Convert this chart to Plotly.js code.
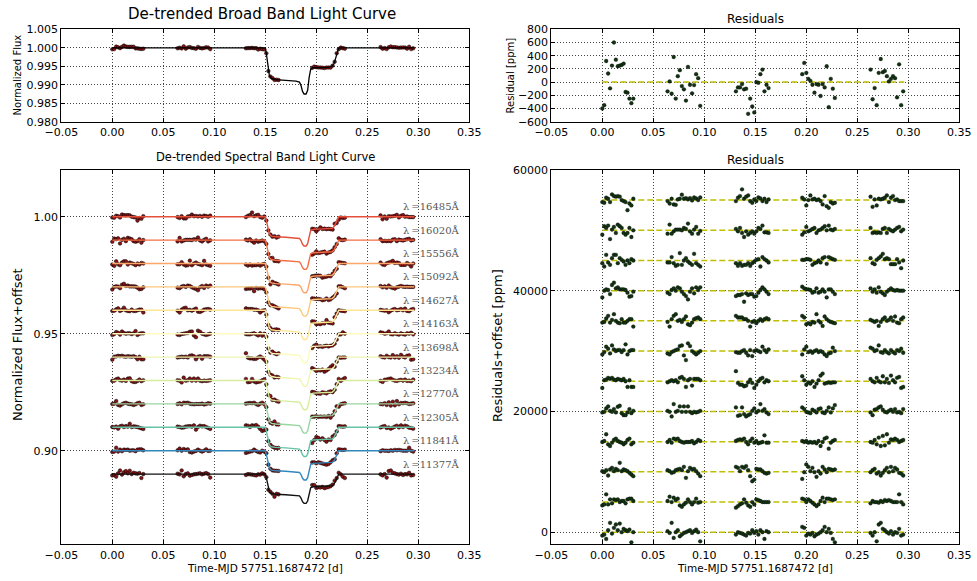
<!DOCTYPE html>
<html><head><meta charset="utf-8">
<script src="https://cdn.plot.ly/plotly-3.0.1.min.js"></script>
<style>html,body{margin:0;padding:0;background:#fff}#c{width:977px;height:581px}</style>
</head><body><div id="c"></div>
<script>
// ---- observation times (5 HST orbits, days) ----
const timeObs = [
 0.0000,0.0019,0.0038,0.0057,0.0076,0.0095,0.0114,0.0133,0.0152,0.0171,0.0190,0.0209,0.0228,0.0247,0.0266,0.0285,0.0304,
 0.0640,0.0660,0.0680,0.0700,0.0720,0.0740,0.0760,0.0780,0.0800,0.0820,0.0840,0.0860,0.0880,0.0900,0.0920,0.0940,0.0960,
 0.1310,0.1330,0.1350,0.1370,0.1390,0.1410,0.1430,0.1450,0.1470,0.1490,0.1510,0.1530,0.1550,0.1570,0.1590,0.1610,0.1630,
 0.1960,0.1980,0.2000,0.2020,0.2040,0.2060,0.2080,0.2100,0.2120,0.2140,0.2160,0.2180,0.2200,0.2220,0.2240,0.2260,0.2280,
 0.2630,0.2650,0.2670,0.2690,0.2710,0.2730,0.2750,0.2770,0.2790,0.2810,0.2830,0.2850,0.2870,0.2890,0.2910,0.2930,0.2950];
// transit model value at each observation time (ppm)
const modelAtObs = [
 0,0,0,0,0,0,0,0,0,0,0,0,0,0,0,0,0,
 0,0,0,0,0,0,0,0,0,0,0,0,0,0,0,0,0,
 0,0,0,0,0,0,0,0,0,0,-1500,-6300,-7900,-8400,-8550,-8600,-8650,
 -5550,-5400,-5380,-5370,-5360,-5350,-5330,-5320,-5300,-5150,-4800,-3700,-1700,0,0,0,0,
 0,0,0,0,0,0,0,0,0,0,0,0,0,0,0,0,0];
// broad band residuals (ppm)
const broadResid = [
 -400,-350,320,130,-95,250,600,340,240,250,260,280,-150,-160,-250,-320,-250,
 -140,10,-175,380,-250,90,180,-60,-110,-280,230,-40,-170,-45,120,60,-360,
 -140,-80,-80,-30,-110,-100,-480,-250,-370,-460,0,-10,120,190,-140,-40,-90,
 120,290,140,50,20,-40,-160,-30,-40,-210,-30,-80,240,-380,50,-100,-240,
 190,-260,-90,-350,140,350,150,170,90,10,50,90,60,-230,270,-350,-140];
// model light curve knots
const modelT = [0,0.150,0.151,0.152,0.153,0.154,0.156,0.160,0.170,0.180,0.1835,0.185,0.1865,0.188,0.190,0.1915,0.193,0.1945,0.197,0.212,0.2155,0.2175,0.219,0.2205,0.2215,0.222,0.296];
const modelDev = [0,0,-1500,-4000,-6300,-7500,-8300,-8600,-8800,-9000,-9300,-10200,-11800,-12500,-12500,-11500,-8000,-5800,-5400,-5300,-5000,-4200,-2800,-1000,-200,0,0];

// spectral channels
const wavelengths = [11377,11841,12305,12770,13234,13698,14163,14627,15092,15556,16020,16485];
const fluxOffsets = [0.89,0.90,0.91,0.92,0.93,0.94,0.95,0.96,0.97,0.98,0.99,1.00];
const residOffsets = [0,5000,10000,15000,20000,25000,30000,35000,40000,45000,50000,55000];
const channelColors = ['#111111','#3288bd','#66c2a5','#99d5a0','#d6ee9b','#eef6b0','#fdfbbe','#fee591','#fdc87c','#fca66a','#f46d43','#e4503a'];

const resid_11377 = [
 -560,-390,-1110,330,1560,-220,720,1280,330,1440,0,560,330,170,440,-1670,0,
 170,-110,1560,-940,0,330,-670,-390,-110,0,170,330,-110,170,440,0,-1500,
 -390,0,-110,-220,-390,-560,-110,-220,330,-110,170,-390,330,0,-1110,170,0,
 890,720,-560,-220,-390,-110,-670,-390,-220,0,330,890,0,560,-110,-1110,-1670,
 -110,-560,0,-1500,1280,1560,560,330,0,-220,170,-390,0,-110,560,-560,-390];
const resid_11841 = [
 -560,-390,1280,-390,440,-220,440,330,440,0,170,170,-220,440,560,560,170,
 170,890,0,720,330,560,-560,-780,-390,-110,440,0,-390,0,560,-110,0,
 -940,-670,-390,-220,440,-110,-560,-780,0,-390,440,330,170,0,0,0,0,
 560,440,0,440,170,-110,-390,-670,-390,170,720,0,560,560,440,330,440,
 -220,170,0,0,-110,170,0,330,170,330,170,0,0,0,1280,0,-390];
const resid_12305 = [
 110,-60,280,-610,390,670,110,500,280,1500,110,390,280,110,-170,-440,-720,
 280,110,-170,-60,280,390,500,280,830,-1000,110,670,390,500,110,-280,-720,
 830,670,110,830,670,950,280,-720,-1560,-1280,500,390,390,110,-170,-280,-170,
 -1170,-60,1220,830,110,670,-60,-830,110,-280,830,390,-60,500,390,280,390,
 -60,280,500,-280,-60,-610,-170,280,670,-60,830,110,670,390,-170,-280,-610];
const resid_12770 = [
 -60,110,1220,-440,-720,-170,280,500,110,-60,-170,-440,-170,280,500,-440,-170,
 -60,280,-170,500,390,500,110,-60,-170,-60,-60,-60,110,-280,-60,280,110,
 110,280,390,280,500,-60,-440,110,500,-170,110,-280,-170,-60,1050,-170,-170,
 110,-60,110,-170,-60,-170,-60,-280,110,-720,-60,500,670,-1170,-170,110,280,
 -60,-170,280,-440,670,-720,950,-610,1220,-170,390,280,500,280,-60,110,280];
const resid_13234 = [
 -170,-60,500,830,110,-60,390,-170,780,940,-280,-610,-610,-170,390,-280,110,
 110,-60,-830,1220,-60,110,830,-60,830,-60,830,-60,-280,-60,-170,-60,110,
 670,-720,-610,670,-440,-830,-610,-440,110,500,-170,110,1220,110,390,-170,-440,
 670,390,-60,-170,-280,280,110,-170,390,500,-170,-280,110,670,-170,500,1050,
 -170,-610,280,390,670,830,280,-60,-170,110,280,-60,390,-170,-60,-280,390];
const resid_13698 = [
 -1110,170,280,560,390,560,280,170,390,280,170,390,0,-940,170,-940,-940,
 -170,0,170,0,170,-170,560,720,390,-940,170,390,-720,390,390,390,170,
 1670,-280,-560,-560,-830,-720,-170,280,-280,-1110,-560,0,390,560,-170,170,0,
 830,170,-560,-170,-390,0,-940,-390,170,940,1280,-390,-280,-170,-280,-170,-170,
 390,0,-170,560,0,-170,830,-170,390,-280,940,170,-170,560,720,-1110,-940];
const resid_14163 = [
 -560,-170,720,390,-390,940,280,0,170,170,-170,170,1110,-560,0,170,170,
 -390,-560,-170,0,170,280,830,940,-720,-1500,1280,830,0,-280,-560,-280,0,
 -170,-280,-280,0,170,-280,-720,170,-830,0,170,0,-170,720,170,-170,280,
 -560,280,720,-170,0,-280,0,170,-170,0,-170,-560,-830,-390,-280,560,0,
 560,390,0,170,940,-170,-280,170,-170,-390,170,-170,-390,170,0,390,-280];
const resid_14627 = [
 -280,-170,390,830,-280,170,1110,0,-280,-390,280,-280,-280,0,280,280,-940,
 -170,-940,280,830,1110,0,170,-170,280,720,-560,-720,-280,280,440,560,280,
 830,560,560,560,280,280,0,-940,-170,0,-390,0,280,0,280,440,280,
 830,560,-560,-390,-560,-170,-280,1110,0,-280,-830,720,280,0,-170,-280,-390,
 170,0,-170,0,-830,-170,280,560,0,170,560,0,720,-280,-390,280,560];
const resid_15092 = [
 -1110,0,220,110,-560,940,1330,390,560,220,220,220,110,-330,-1000,-890,-170,
 -330,-560,110,390,0,560,390,-170,-560,-890,-1450,-170,390,-440,560,110,560,
 -890,-720,-720,-560,-1830,-440,-720,-560,-560,-1000,-890,-330,110,560,220,-170,-560,
 670,390,220,220,110,-330,-170,390,-330,-170,220,-170,-1110,220,220,-170,-560,
 390,-170,220,-330,560,-170,-440,-720,-170,110,390,110,0,110,0,0,0];
const resid_15556 = [
 -440,-1000,940,-330,-720,390,940,940,-440,390,110,-170,-720,0,-440,220,0,
 -330,-330,560,-440,-890,-720,1220,-720,0,390,-170,-440,-720,1110,-440,-720,-1000,
 -440,-890,-440,-890,-720,-720,-440,-890,-440,-170,110,220,-1000,560,220,0,-330,
 110,110,220,220,110,-720,-440,-330,0,-330,390,560,-560,560,390,220,110,
 390,-440,-610,110,390,670,1110,220,390,220,-610,-610,-610,220,-330,-1280,0];
const resid_16020 = [
 -720,670,390,780,-1450,110,560,-440,940,670,390,-440,-720,-440,390,-1110,0,
 -560,940,-560,-170,110,110,110,0,390,220,1110,-170,-560,110,560,-560,-110,
 220,-170,390,-440,-1110,-170,-720,-440,-170,-560,-170,390,220,780,-330,-330,-440,
 -720,-330,560,-170,0,220,390,-440,0,110,390,670,0,780,110,0,220,
 390,-440,-330,-440,-330,-440,220,390,-440,220,0,-170,110,390,560,-170,110];
const resid_16485 = [
 -330,-440,390,220,-330,940,670,560,670,560,0,-170,-330,-1670,-560,-890,220,
 -170,-560,220,-720,-780,110,220,890,220,330,110,330,-60,440,280,0,440,
 -170,390,670,1780,220,560,780,-170,-440,110,-170,440,280,-170,220,-330,110,
 390,110,-890,0,780,110,220,0,110,-170,-720,670,-1000,-1280,-330,-560,-440,
 560,-1110,110,-890,220,110,220,390,780,-330,390,670,0,110,-170,-170,-170];
const channelResid = [resid_11377,resid_11841,resid_12305,resid_12770,resid_13234,resid_13698,
  resid_14163,resid_14627,resid_15092,resid_15556,resid_16020,resid_16485];

const xTickVals = [-0.05,0,0.05,0.10,0.15,0.20,0.25,0.30,0.35];

// ---- build traces ----
const traces = [];
const redMarker = {color:'#8a1212',size:3.6,line:{color:'#000',width:0.5}};
const greenMarker = {color:'#123212',size:3.8,line:{color:'#000',width:0.3}};
const yellowDash = {color:'#bfbf00',width:1.5,dash:'6px,3px'};
const tFirst = modelT[0], tLast = modelT[modelT.length-1];

// top-left broad band
traces.push({x:timeObs,y:timeObs.map((t,i)=>1+(modelAtObs[i]+broadResid[i])*1e-6),mode:'markers',marker:redMarker,xaxis:'x',yaxis:'y',type:'scatter'});
traces.push({x:modelT,y:modelDev.map(d=>1+d*1e-6),mode:'lines',line:{color:'#000',width:1.3},xaxis:'x',yaxis:'y',type:'scatter'});
// top-right residuals
traces.push({x:[tFirst,tLast],y:[0,0],mode:'lines',line:yellowDash,xaxis:'x2',yaxis:'y2',type:'scatter'});
traces.push({x:timeObs,y:broadResid,mode:'markers',marker:greenMarker,xaxis:'x2',yaxis:'y2',type:'scatter'});

const annotations = [];
wavelengths.forEach((wl,k)=>{
  const res = channelResid[k];
  traces.push({x:timeObs,y:timeObs.map((t,i)=>fluxOffsets[k]+(modelAtObs[i]+res[i])*1e-6),mode:'markers',marker:redMarker,xaxis:'x3',yaxis:'y3',type:'scatter'});
  traces.push({x:modelT,y:modelDev.map(d=>fluxOffsets[k]+d*1e-6),mode:'lines',line:{color:channelColors[k],width:1.4},xaxis:'x3',yaxis:'y3',type:'scatter'});
  traces.push({x:[tFirst,tLast],y:[residOffsets[k],residOffsets[k]],mode:'lines',line:yellowDash,xaxis:'x4',yaxis:'y4',type:'scatter'});
  traces.push({x:timeObs,y:res.map(r=>r+residOffsets[k]),mode:'markers',marker:greenMarker,xaxis:'x4',yaxis:'y4',type:'scatter'});
  annotations.push({xref:'x3',yref:'y3',x:0.3428,y:fluxOffsets[k]+0.0043,text:'λ\u2009=' + wl + 'Å',showarrow:false,xanchor:'right',yanchor:'middle',font:{family:'DejaVu Serif',size:10,color:'#555'}});
});

const W=977,H=581;
function px(x){return x/W;} function py(y){return 1-y/H;}
function tf(t,sz,x,y,ang){annotations.push({xref:'paper',yref:'paper',x:x,y:y,text:t,showarrow:false,xanchor:'center',yanchor:'middle',textangle:ang||0,font:{family:'DejaVu Sans',size:sz,color:'#000'}});}
tf('De-trended Broad Band Light Curve',15,px(262),py(14));
tf('Residuals',12,px(755),py(19));
tf('De-trended Spectral Band Light Curve',11.5,px(265),py(157));
tf('Residuals',12,px(755),py(160));
tf('Normalized Flux',10,px(17),py(75.5),-90);
tf('Residual [ppm]',10,px(510),py(75.5),-90);
tf('Normalized Flux+offset',13,px(17),py(345),-90);
tf('Residuals+offset [ppm]',13,px(497),py(345),-90);
tf('Time-MJD 57751.1687472 [d]',10.5,px(265),py(568));
tf('Time-MJD 57751.1687472 [d]',10.5,px(755),py(568));

function ax(extra){return Object.assign({showline:true,linecolor:'#000',linewidth:1,mirror:'ticks',ticks:'inside',ticklen:4,tickwidth:1,tickcolor:'#000',
  showgrid:true,gridcolor:'#444',griddash:'1px,2px',gridwidth:1,zeroline:false,fixedrange:true,
  tickfont:{family:'DejaVu Sans',size:11,color:'#000'}},extra);}
const dxL=[px(61.3),px(469.3)], dxR=[px(551.3),px(959.3)];
const dyT=[py(121.7),py(29.3)], dyB=[py(544.3),py(169.9)];
const xa = {range:[-0.05,0.35],tickvals:xTickVals,tickformat:'.2f'};

const layout = {
  width:W,height:H,margin:{l:0,r:0,t:0,b:0},paper_bgcolor:'#fff',plot_bgcolor:'#fff',showlegend:false,
  font:{family:'DejaVu Sans',size:11,color:'#000'},
  xaxis: ax(Object.assign({domain:dxL,anchor:'y'},xa)),
  yaxis: ax({domain:dyT,anchor:'x',range:[0.980,1.005],tickvals:[0.980,0.985,0.990,0.995,1.000,1.005],tickformat:'.3f'}),
  xaxis2: ax(Object.assign({domain:dxR,anchor:'y2'},xa)),
  yaxis2: ax({domain:dyT,anchor:'x2',range:[-600,800],tickvals:[-600,-400,-200,0,200,400,600,800],tickformat:'d'}),
  xaxis3: ax(Object.assign({domain:dxL,anchor:'y3'},xa)),
  yaxis3: ax({domain:dyB,anchor:'x3',range:[0.86,1.02],tickvals:[0.90,0.95,1.00],tickformat:'.2f'}),
  xaxis4: ax(Object.assign({domain:dxR,anchor:'y4'},xa)),
  yaxis4: ax({domain:dyB,anchor:'x4',range:[-2000,60000],tickvals:[0,20000,40000,60000],tickformat:'d'}),
  annotations:annotations
};
Plotly.newPlot('c',traces,layout,{staticPlot:true,displayModeBar:false});
</script></body></html>
